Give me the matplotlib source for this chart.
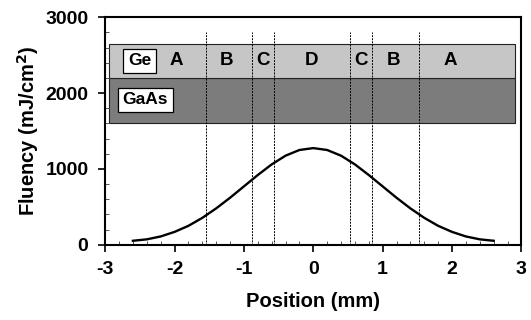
import numpy as np
import matplotlib.pyplot as plt
from matplotlib.patches import Rectangle
from matplotlib.ticker import MultipleLocator

plt.rcParams['font.family'] = ['Liberation Sans', 'DejaVu Sans']
plt.rcParams['font.weight'] = 'bold'
plt.rcParams['axes.unicode_minus'] = False

# fluence profile
pos = [-2.6, -2.4, -2.2, -2.0, -1.8, -1.6, -1.4, -1.2, -1.0, -0.8, -0.6, -0.4, -0.2, 0.0,
       0.2, 0.4, 0.6, 0.8, 1.0, 1.2, 1.4, 1.6, 1.8, 2.0, 2.2, 2.4, 2.6]
fluency = [53, 72, 110, 170, 250, 355, 480, 620, 770, 920, 1060, 1175, 1250, 1275,
           1250, 1175, 1060, 920, 770, 620, 480, 355, 250, 170, 110, 72, 53]

# region boundaries (dashed lines)
bounds = [-1.54, -0.89, -0.57, 0.53, 0.84, 1.53]
region_labels = ['A', 'B', 'C', 'D', 'C', 'B', 'A']
region_x = [-1.97, -1.25, -0.72, -0.02, 0.69, 1.15, 1.97]

# layer band (x extent, y extents)
band_x = [-2.94, 2.9]
ge_y = [2200, 2650]
gaas_y = [1600, 2200]

fig = plt.figure(figsize=(5.31, 3.2), dpi=100)
ax = fig.add_axes([0.198, 0.235, 0.784, 0.711])

ax.add_patch(Rectangle((band_x[0], gaas_y[0]), band_x[1] - band_x[0], gaas_y[1] - gaas_y[0],
                       facecolor='#7c7c7c', edgecolor='#222222', lw=0.8, zorder=1))
ax.add_patch(Rectangle((band_x[0], ge_y[0]), band_x[1] - band_x[0], ge_y[1] - ge_y[0],
                       facecolor='#c6c6c6', edgecolor='#222222', lw=0.8, zorder=1))

for b in bounds:
    ax.plot([b, b], [0, 2810], color='black', lw=0.7, ls=(0, (2, 1.2)), zorder=2)

ax.plot(pos, fluency, color='black', lw=1.7, zorder=3)

ge_mid = (ge_y[0] + ge_y[1]) / 2
for lab, xx in zip(region_labels, region_x):
    ax.text(xx, ge_mid, lab, ha='center', va='center', fontsize=13.5, fontweight='bold', zorder=4)

box = dict(boxstyle='square,pad=0.28', facecolor='white', edgecolor='black', lw=0.9)
ax.text(-2.5, ge_mid, 'Ge', ha='center', va='center', fontsize=12.5, fontweight='bold', bbox=box, zorder=4)
ax.text(-2.42, 1910, 'GaAs', ha='center', va='center', fontsize=12.5, fontweight='bold', bbox=box, zorder=4)

ax.set_xlim(-3, 3)
ax.set_ylim(0, 3000)
ax.xaxis.set_major_locator(MultipleLocator(1))
ax.xaxis.set_minor_locator(MultipleLocator(0.2))
ax.yaxis.set_major_locator(MultipleLocator(1000))
ax.yaxis.set_minor_locator(MultipleLocator(200))
ax.tick_params(which='major', direction='out', length=5, width=1.2, labelsize=14, pad=7)
ax.tick_params(which='minor', direction='in', length=3, width=0.7, color='#555555')
for lbl in ax.get_xticklabels() + ax.get_yticklabels():
    lbl.set_fontweight('bold')
for s in ax.spines.values():
    s.set_linewidth(1.5)

ax.set_xlabel('Position (mm)', fontsize=14.5, fontweight='bold', labelpad=10)
ax.set_ylabel('Fluency (mJ/cm$^\\mathbf{2}$)', fontsize=14.5, fontweight='bold', labelpad=3)

fig.savefig('out.png', dpi=100)
